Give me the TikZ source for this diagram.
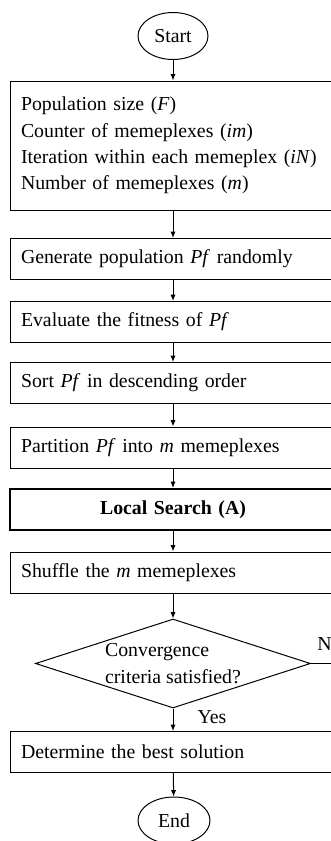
\documentclass[tikz,border=0pt]{standalone}
\usepackage{fontspec}
\setmainfont{Liberation Serif}
\usetikzlibrary{shapes.geometric,arrows.meta}
\begin{document}
\begin{tikzpicture}[x=0.5pt,y=-0.5pt,
        >={Latex[length=3.2pt,width=2.6pt]},
        every node/.style={font=\fontsize{9.9}{13.2}\selectfont},
        terminal/.style={ellipse, draw, line width=0.5pt, minimum width=35pt, minimum height=23.5pt, inner sep=0pt},
        stepbox/.style={rectangle, draw, line width=0.5pt, minimum height=20.5pt, text width=152pt, inner xsep=5.5pt, align=left},
        bigstep/.style={stepbox, line width=1.1pt, align=center, font=\fontsize{9.9}{13.2}\selectfont\bfseries},
        decision/.style={diamond, draw, line width=0.5pt, aspect=3.09, minimum width=137.5pt, minimum height=44.5pt, inner sep=0pt, align=left},
        link/.style={->, line width=0.5pt}
    ]
    \useasboundingbox (0,0) rectangle (331,841);
    \clip (0,0) rectangle (331,841);

    \node[terminal] (start) at (173,36) {Start};
    \node[stepbox, minimum height=64.5pt] (params) at (173,145.5) {Population size (\textit{F})\\
        Counter of memeplexes (\textit{im})\\
        Iteration within each memeplex (\textit{iN})\\
        Number of memeplexes (\textit{m})};
    \node[stepbox] (gen) at (173,259) {Generate population \textit{Pf} randomly};
    \node[stepbox] (eval) at (173,322) {Evaluate the fitness of \textit{Pf}};
    \node[stepbox] (sort) at (173,383) {Sort \textit{Pf} in descending order};
    \node[stepbox] (part) at (173,447.5) {Partition \textit{Pf} into \textit{m} memeplexes};
    \node[bigstep] (local) at (173,509.5) {Local Search (A)};
    \node[stepbox] (shuf) at (173,572.5) {Shuffle the \textit{m} memeplexes};
    \node[decision] (conv) at (173,663.5) {Convergence\\criteria satisfied?};
    \node[stepbox] (best) at (173,752) {Determine the best solution};
    \node[terminal, minimum width=36pt] (finish) at (174,820.5) {End};

    \coordinate (noend) at (345,663.5);
    \node[anchor=west, inner sep=0pt] (nolbl) at (317,644) {No};
    \node[inner sep=0pt] (yeslbl) at (212,717) {Yes};

    \draw[link] (start) -- (params);
    \draw[link] (params) -- (gen);
    \draw[link] (gen) -- (eval);
    \draw[link] (eval) -- (sort);
    \draw[link] (sort) -- (part);
    \draw[link] (part) -- (local);
    \draw[link] (local) -- (shuf);
    \draw[link] (shuf) -- (conv);
    \draw[link] (conv) -- (best);
    \draw[link] (best) -- (finish);
    \draw[line width=0.5pt] (conv.east) -- (noend);
\end{tikzpicture}
\end{document}
